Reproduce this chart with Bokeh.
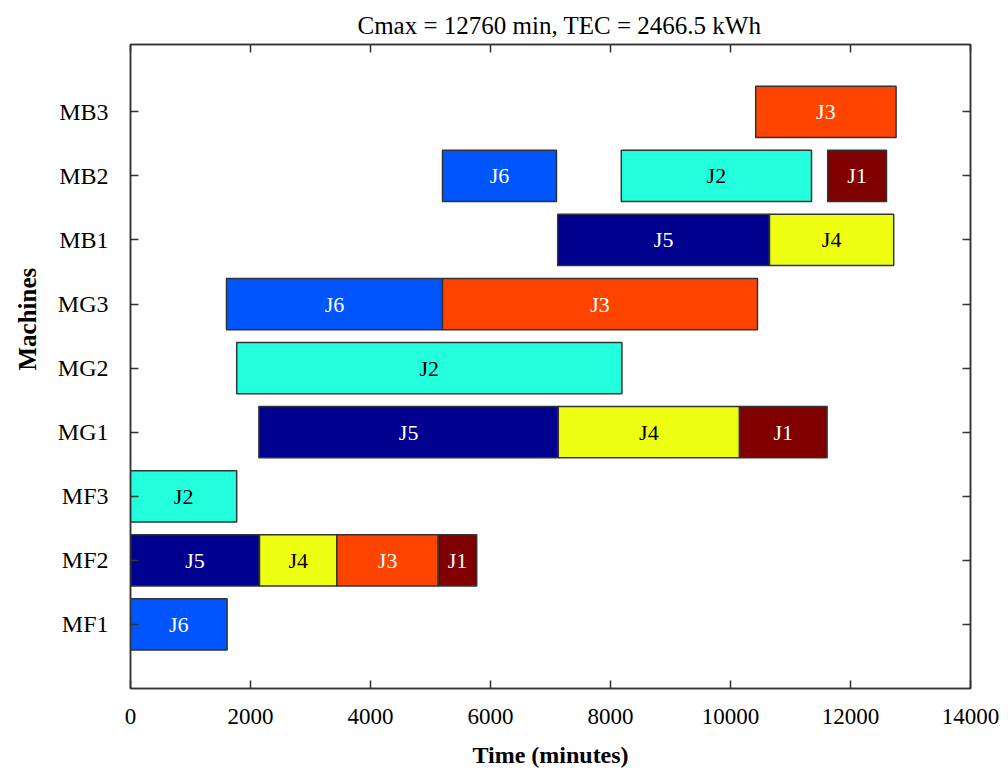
from bokeh.plotting import figure
from bokeh.models import ColumnDataSource, FixedTicker, LinearAxis, Range1d, Title
from bokeh.core.properties import value
from bokeh.embed import file_html
from bokeh.resources import INLINE

machines = ["MF1", "MF2", "MF3", "MG1", "MG2", "MG3", "MB1", "MB2", "MB3"]
task_machine = ["MF1", "MF2", "MF2", "MF2", "MF2", "MF3", "MG1", "MG1", "MG1",
                "MG2", "MG3", "MG3", "MB1", "MB1", "MB2", "MB2", "MB2", "MB3"]
task_job = ["J6", "J5", "J4", "J3", "J1", "J2", "J5", "J4", "J1",
            "J2", "J6", "J3", "J5", "J4", "J6", "J2", "J1", "J3"]
task_start = [0, 0, 2150, 3440, 5130, 0, 2140, 7130, 10150,
              1770, 1600, 5200, 7120, 10650, 5200, 8180, 11620, 10420]
task_end = [1610, 2150, 3440, 5130, 5770, 1770, 7130, 10150, 11610,
            8190, 5200, 10450, 10650, 12720, 7100, 11350, 12600, 12760]
jobs = ["J1", "J2", "J3", "J4", "J5", "J6"]
job_colors = ["#800000", "#22FFDD", "#FF4400", "#EEFF11", "#00008F", "#0055FF"]
job_text_colors = ["white", "black", "white", "black", "white", "white"]
x_ticks = [0, 2000, 4000, 6000, 8000, 10000, 12000, 14000]
title_text = "Cmax = 12760 min, TEC = 2466.5 kWh"
x_label = "Time (minutes)"
y_label = "Machines"

FONT = "Liberation Serif"
AX = "#333333"

ypos = [machines.index(m) + 1 for m in task_machine]
src = ColumnDataSource(dict(
    y=ypos,
    left=task_start,
    right=task_end,
    mid=[(a + b) / 2 for a, b in zip(task_start, task_end)],
    job=task_job,
    color=[job_colors[jobs.index(j)] for j in task_job],
    tcolor=[job_text_colors[jobs.index(j)] for j in task_job],
))

p = figure(width=1000, height=770, output_backend="svg", toolbar_location=None,
           x_range=Range1d(0, 14000), y_range=Range1d(0, 10.05),
           min_border_left=130, min_border_right=30, min_border_top=44,
           min_border_bottom=82, title=title_text)

p.title.align = "left"
p.title.offset = 227
p.title.text_font = FONT
p.title.text_font_size = "25px"
p.title.text_font_style = "normal"
p.title.text_color = "black"
p.title.standoff = 11

p.hbar(y="y", left="left", right="right", height=0.8, source=src,
       fill_color="color", line_color=AX, line_width=1.5)
p.text(x="mid", y="y", text="job", source=src, text_color="tcolor",
       text_align="center", text_baseline="middle",
       text_font=value(FONT), text_font_size="22px")

p.grid.visible = False
p.outline_line_color = AX
p.outline_line_width = 1.5
p.background_fill_color = "white"
p.border_fill_color = "white"

# bottom axis
xa = p.xaxis[0]
xa.ticker = FixedTicker(ticks=x_ticks)
xa.major_tick_in = 8
xa.major_tick_out = 0
xa.minor_tick_line_color = None
xa.axis_line_color = AX
xa.axis_line_width = 1.5
xa.major_tick_line_color = AX
xa.major_tick_line_width = 1.5
xa.major_label_text_font = FONT
xa.major_label_text_font_size = "23px"
xa.major_label_text_color = "black"
xa.major_label_standoff = 20
xa.axis_label = x_label
xa.axis_label_text_font = FONT
xa.axis_label_text_font_size = "24px"
xa.axis_label_text_font_style = "bold"
xa.axis_label_text_color = "black"
xa.axis_label_standoff = 15

# left axis
ya = p.yaxis[0]
ya.ticker = FixedTicker(ticks=list(range(1, len(machines) + 1)))
ya.major_label_overrides = {i + 1: m for i, m in enumerate(machines)}
ya.major_tick_in = 8
ya.major_tick_out = 0
ya.minor_tick_line_color = None
ya.axis_line_color = AX
ya.axis_line_width = 1.5
ya.major_tick_line_color = AX
ya.major_tick_line_width = 1.5
ya.major_label_text_font = FONT
ya.major_label_text_font_size = "24px"
ya.major_label_text_color = "black"
ya.major_label_standoff = 22
ya.major_label_orientation = "horizontal"

ytitle = Title(text=y_label, align="left", offset=318, standoff=24,
               vertical_align="top",
               text_font=FONT, text_font_size="25px", text_font_style="bold",
               text_color="black")
p.add_layout(ytitle, "left")

# right axis (ticks only)
ra = LinearAxis(ticker=FixedTicker(ticks=list(range(1, len(machines) + 1))),
                major_label_overrides={i + 1: "" for i in range(len(machines))},
                major_tick_in=8, major_tick_out=0, minor_tick_line_color=None,
                axis_line_color=AX, axis_line_width=1.5,
                major_tick_line_color=AX, major_tick_line_width=1.5,
                major_label_standoff=0)
p.add_layout(ra, "right")

# top axis (ticks only)
ta = LinearAxis(ticker=FixedTicker(ticks=x_ticks),
                major_label_overrides={t: "" for t in x_ticks},
                major_tick_in=8, major_tick_out=0, minor_tick_line_color=None,
                axis_line_color=AX, axis_line_width=1.5,
                major_tick_line_color=AX, major_tick_line_width=1.5,
                major_label_standoff=0)
p.add_layout(ta, "above")

open("out.html", "w").write(file_html(p, INLINE))
